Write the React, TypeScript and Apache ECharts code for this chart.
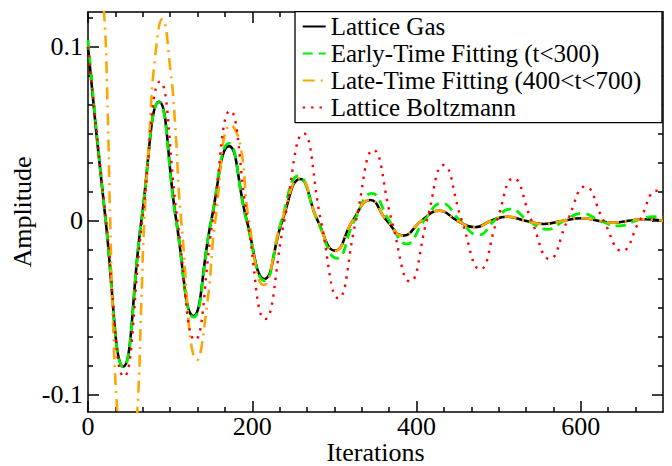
import React, { useEffect, useRef } from "react";
import * as echarts from "echarts";

// ---- Data ----
const gasT = [0, 21.5, 43, 65, 86.5, 107.5, 128.3, 150, 171.7, 193.3, 214.8, 236.5, 258.2, 279.6, 300.9, 322.2, 343.5, 363.8, 384, 406, 427.9, 449.7, 471.4, 490.7, 510, 532.3, 554.6, 578, 601.3, 620.7, 640, 658.2, 676.4, 700];
const gasA = [0.1, 0, -0.0838, 0, 0.0684, 0, -0.0548, 0, 0.0429, 0, -0.0335, 0, 0.024, 0, -0.0172, 0, 0.0119, 0, -0.0086, 0, 0.0057, 0, -0.0038, 0, 0.0023, 0, -0.0019, 0, 0.0014, 0, -0.0011, 0, 0.0008, 0];

const earlyT = [0, 21.5, 43, 65, 86.3, 107.3, 128.5, 150, 171.5, 193, 215, 235.5, 256, 279.5, 303, 324.3, 345.5, 366.8, 388, 409.3, 430.7, 453, 475.4, 494.7, 514, 536.3, 558.7, 580, 601.3, 623.7, 646, 667.3, 688.6, 700];
const earlyA = [0.104, 0, -0.0842, 0, 0.068, 0, -0.0555, 0, 0.0445, 0, -0.0345, 0, 0.0257, 0, -0.0216, 0, 0.0157, 0, -0.0134, 0, 0.01, 0, -0.0082, 0, 0.0067, 0, -0.005, 0, 0.0042, 0, -0.003, 0, 0.0023, 0.0018];

const lateT = [0, 6, 19.5, 23.5, 27, 30.9, 35.7, 47.5, 60, 65, 68.5, 74.3, 81.2, 90.5, 100.5, 106, 113.5, 133, 145.3, 155, 174, 185, 196, 214, 236, 258.2, 279.6, 300.9, 322.2, 343.5, 363.8, 384, 406, 427.9, 449.7, 471.4, 490.7, 510, 532.3, 554.6, 578, 601.3, 620.7, 640, 658.2, 676.4, 700];
const lateA = [0.19, 0.2, 0.12, 0.071, 0, -0.065, -0.11, -0.19, -0.11, -0.046, 0, 0.046, 0.092, 0.116, 0.086, 0.056, 0, -0.08, -0.047, 0, 0.055, 0.0445, 0, -0.037, 0, 0.0245, 0, -0.0175, 0, 0.012, 0, -0.0087, 0, 0.0058, 0, -0.0039, 0, 0.0024, 0, -0.0019, 0, 0.0014, 0, -0.0011, 0, 0.0008, 0];

const lbT = [0, 22, 43.8, 66, 87.7, 109, 130.3, 151.7, 173, 194.3, 215.6, 239, 262.3, 283.6, 304.9, 326.2, 347.5, 369.8, 392.2, 412.5, 432.8, 455.1, 477.5, 497.8, 518, 540, 561.9, 583.6, 605.4, 627.7, 650, 671.5, 693, 700];
const lbA = [0.1, 0, -0.0897, 0, 0.08, 0, -0.0686, 0, 0.0632, 0, -0.0566, 0, 0.0502, 0, -0.0446, 0, 0.0406, 0, -0.035, 0, 0.032, 0, -0.028, 0, 0.0244, 0, -0.022, 0, 0.0196, 0, -0.0174, 0, 0.0172, 0.0166];

const seriesNames = [
  "Lattice Gas",
  "Early-Time Fitting (t<300)",
  "Late-Time Fitting (400<t<700)",
  "Lattice Boltzmann",
];

// ---- Axis ticks ----
const X_MIN = 0;
const X_MAX = 700;
const Y_MIN = -0.11;
const Y_MAX = 0.12;
const X_MAJOR = [0, 200, 400, 600];
const Y_MAJOR = [-0.1, 0, 0.1];
const X_MINOR: number[] = [];
for (let i = 1; i * (200 / 6) < X_MAX; i++) {
  if (i % 6 !== 0) X_MINOR.push((i * 200) / 6);
}
const Y_MINOR: number[] = [];
for (let k = -6; k <= 7; k++) {
  const v = k / 60;
  if (k % 6 !== 0 && v > Y_MIN && v < Y_MAX) Y_MINOR.push(v);
}

const FONT = "Liberation Serif";
const AXIS_FS = 26;

const zip = (t: number[], a: number[]) => t.map((x, i) => [x, a[i]]);

function App() {
  const ref = useRef<HTMLDivElement>(null);

  useEffect(() => {
    if (!ref.current) return;
    const chart = echarts.init(ref.current, null, { renderer: "svg" });

    const lineSt = { color: "#000", width: 1.5 };
    const tickSt = { color: "#000", width: 1.5 };
    const labelSt = { fontFamily: FONT, fontSize: AXIS_FS, color: "#000" };

    const makeX = (position: string, major: boolean, withLabels: boolean, name?: string) => ({
      type: "value",
      gridIndex: 0,
      position,
      min: X_MIN,
      max: X_MAX,
      name,
      nameLocation: "middle",
      nameGap: 27.5,
      nameMoveOverlap: false,
      nameTextStyle: labelSt,
      axisLine: { show: major, onZero: false, lineStyle: lineSt },
      axisTick: {
        show: true,
        inside: true,
        length: major ? 11 : 5,
        customValues: major ? X_MAJOR : X_MINOR,
        lineStyle: tickSt,
      },
      axisLabel: withLabels
        ? { show: true, customValues: X_MAJOR, margin: 1.5, ...labelSt }
        : { show: false },
      splitLine: { show: false },
      minorTick: { show: false },
    });

    const makeY = (position: string, major: boolean, withLabels: boolean, name?: string) => ({
      type: "value",
      gridIndex: 0,
      position,
      min: Y_MIN,
      max: Y_MAX,
      name,
      nameLocation: "middle",
      nameRotate: 90,
      nameGap: 53,
      nameMoveOverlap: false,
      nameTextStyle: labelSt,
      axisLine: { show: major, onZero: false, lineStyle: lineSt },
      axisTick: {
        show: true,
        inside: true,
        length: major ? 11 : 5,
        customValues: major ? Y_MAJOR : Y_MINOR,
        lineStyle: tickSt,
      },
      axisLabel: withLabels
        ? { show: true, customValues: Y_MAJOR, margin: 5, ...labelSt }
        : { show: false },
      splitLine: { show: false },
      minorTick: { show: false },
    });

    const base = {
      type: "line",
      xAxisIndex: 0,
      yAxisIndex: 0,
      symbol: "none",
      showSymbol: false,
      smooth: 0.5,
      clip: true,
    };
    const noSym = { color: "rgba(0,0,0,0)", borderColor: "rgba(0,0,0,0)", borderWidth: 0 };

    chart.setOption({
      animation: false,
      backgroundColor: "#fff",
      textStyle: { fontFamily: FONT },
      grid: {
        left: 88,
        right: 9,
        top: 12,
        bottom: 54,
        containLabel: false,
        outerBoundsMode: "none",
      },
      xAxis: [
        makeX("bottom", true, true, "Iterations"),
        makeX("bottom", false, false),
        makeX("top", true, false),
        makeX("top", false, false),
      ],
      yAxis: [
        makeY("left", true, true, "Amplitude"),
        makeY("left", false, false),
        makeY("right", true, false),
        makeY("right", false, false),
      ],
      graphic: {
        elements: [
          {
            type: "rect",
            x: 295,
            y: 11.7,
            z: 8,
            shape: { x: 0, y: 0, width: 367, height: 111 },
            style: { fill: "#fff", stroke: "#000", lineWidth: 1.3 },
          },
        ],
      },
      legend: {
        orient: "vertical",
        left: 295,
        top: 11.5,
        padding: [1.5, 7, 1.5, 6.7],
        itemGap: 0,
        itemWidth: 23,
        itemHeight: 14,
        selectedMode: false,
        z: 10,
        itemStyle: noSym,
        textStyle: {
          fontFamily: FONT,
          fontSize: 25,
          color: "#000",
          lineHeight: 27,
        },
        data: seriesNames,
      },
      series: [
        {
          ...base,
          name: seriesNames[0],
          data: zip(gasT, gasA),
          lineStyle: { color: "#000000", width: 2.6 },
          itemStyle: noSym,
          z: 2,
        },
        {
          ...base,
          name: seriesNames[1],
          data: zip(earlyT, earlyA),
          lineStyle: { color: "#00f000", width: 2.8, type: [10, 6] },
          itemStyle: noSym,
          z: 3,
        },
        {
          ...base,
          name: seriesNames[2],
          data: zip(lateT, lateA),
          lineStyle: { color: "#ffa500", width: 2.6, type: [12, 6, 2, 6] },
          itemStyle: noSym,
          z: 4,
        },
        {
          ...base,
          name: seriesNames[3],
          data: zip(lbT, lbA),
          lineStyle: { color: "#ff0000", width: 2.4, type: [2.4, 6], cap: "butt" },
          itemStyle: noSym,
          z: 5,
        },
      ],
    });

    return () => chart.dispose();
  }, []);

  return (
    <div
      ref={ref}
      style={{ position: "fixed", left: 0, top: 0, width: 672, height: 466, background: "#fff" }}
    />
  );
}

export default App;
